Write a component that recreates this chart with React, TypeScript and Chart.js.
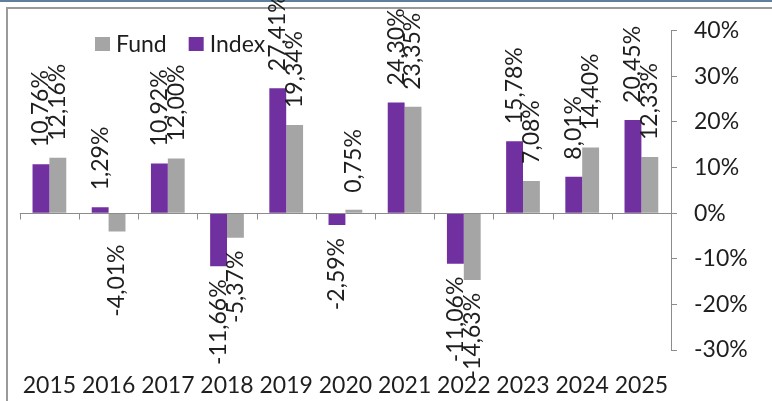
import React, { useEffect, useRef } from "react";
import { Chart, registerables } from "chart.js";

Chart.register(...registerables);

const years = ["2015", "2016", "2017", "2018", "2019", "2020", "2021", "2022", "2023", "2024", "2025"];
const indexValues = [10.76, 1.29, 10.92, -11.66, 27.41, -2.59, 24.3, -11.06, 15.78, 8.01, 20.45];
const fundValues = [12.16, -4.01, 12.0, -5.37, 19.34, 0.75, 23.35, -14.63, 7.08, 14.4, 12.33];
const seriesNames = ["Index", "Fund"];
const seriesColors = ["#7030A0", "#A5A5A5"];
const legendOrder = [1, 0];
const yMin = -30;
const yMax = 40;
const yStep = 10;

const FONT = "Lato";
const FS = 23;
const TEXT = "#1e1e1e";
const AXIS = "#8c8c8c";

const fmt = (v: number) => v.toFixed(2).replace(".", ",") + "%";

const framePlugin = {
  id: "frame",
  beforeDraw(chart: any) {
    const { ctx, width, height } = chart;
    ctx.save();
    ctx.fillStyle = "#ffffff";
    ctx.fillRect(0, 0, width, height);
    ctx.fillStyle = "#5f7f9c";
    ctx.fillRect(0, 0, width, 2);
    ctx.fillStyle = "#9a9a9a";
    ctx.fillRect(6, 7, width - 6, 2);
    ctx.fillRect(6, 7, 2, height - 7);
    ctx.restore();
  },
};

const overlayPlugin = {
  id: "overlay",
  afterDatasetsDraw(chart: any) {
    const { ctx, chartArea, scales } = chart;
    const y = scales.y;
    const y0 = Math.round(y.getPixelForValue(0)) + 0.5;
    ctx.save();
    ctx.strokeStyle = AXIS;
    ctx.lineWidth = 1;
    ctx.beginPath();
    ctx.moveTo(chartArea.left, y0);
    ctx.lineTo(chartArea.right, y0);
    const n = years.length;
    const w = (chartArea.right - chartArea.left) / n;
    for (let i = 0; i <= n; i++) {
      const xb = Math.round(chartArea.left + i * w) + 0.5;
      ctx.moveTo(xb, y0);
      ctx.lineTo(xb, y0 + 6);
    }
    ctx.stroke();

    ctx.fillStyle = TEXT;
    ctx.font = `${FS}px ${FONT}`;
    chart.data.datasets.forEach((ds: any, di: number) => {
      const meta = chart.getDatasetMeta(di);
      meta.data.forEach((bar: any, i: number) => {
        const v = ds.data[i] as number;
        ctx.save();
        ctx.translate(bar.x, v >= 0 ? bar.y - 17 : bar.y + 13);
        ctx.rotate(-Math.PI / 2);
        ctx.textAlign = v >= 0 ? "left" : "right";
        ctx.textBaseline = "middle";
        ctx.fillText(fmt(v), 0, 0);
        ctx.restore();
      });
    });

    // legend
    let lx = 95;
    const ly = 44;
    ctx.textAlign = "left";
    ctx.textBaseline = "middle";
    legendOrder.forEach((di) => {
      ctx.fillStyle = seriesColors[di];
      ctx.fillRect(lx, ly - 7, 15, 14);
      ctx.fillStyle = TEXT;
      ctx.fillText(seriesNames[di], lx + 21, ly + 1);
      lx += 21 + ctx.measureText(seriesNames[di]).width + 22;
    });
    ctx.restore();
  },
};

export default function App() {
  const ref = useRef<HTMLCanvasElement | null>(null);
  useEffect(() => {
    if (!ref.current) return;
    const chart = new Chart(ref.current, {
      type: "bar",
      data: {
        labels: years,
        datasets: [
          {
            label: seriesNames[0],
            data: indexValues,
            backgroundColor: seriesColors[0],
            categoryPercentage: 0.57,
            barPercentage: 1,
          },
          {
            label: seriesNames[1],
            data: fundValues,
            backgroundColor: seriesColors[1],
            categoryPercentage: 0.57,
            barPercentage: 1,
          },
        ],
      },
      options: {
        animation: false,
        responsive: false,
        devicePixelRatio: 1,
        layout: { padding: { left: 16, top: 27, right: 0, bottom: 0 } },
        plugins: { legend: { display: false }, tooltip: { enabled: false } },
        scales: {
          x: {
            grid: { display: false, drawTicks: false },
            border: { display: false },
            ticks: {
              font: { family: FONT, size: FS },
              color: TEXT,
              padding: 22,
              maxRotation: 0,
              autoSkip: false,
            },
            afterFit: (s: any) => {
              s.height = 51;
            },
          },
          y: {
            position: "right",
            min: yMin,
            max: yMax,
            ticks: {
              stepSize: yStep,
              callback: (v: any) => v + "%",
              font: { family: FONT, size: FS },
              color: TEXT,
              padding: 17,
            },
            grid: { drawOnChartArea: false, drawTicks: true, tickLength: 6, color: AXIS },
            border: { display: true, color: AXIS },
            afterFit: (s: any) => {
              s.width = 101;
            },
          },
        },
      },
      plugins: [framePlugin, overlayPlugin],
    });
    return () => chart.destroy();
  }, []);
  return (
    <div style={{ position: "fixed", left: 0, top: 0, width: 772, height: 401 }}>
      <canvas ref={ref} width={772} height={401} style={{ display: "block" }} />
    </div>
  );
}
